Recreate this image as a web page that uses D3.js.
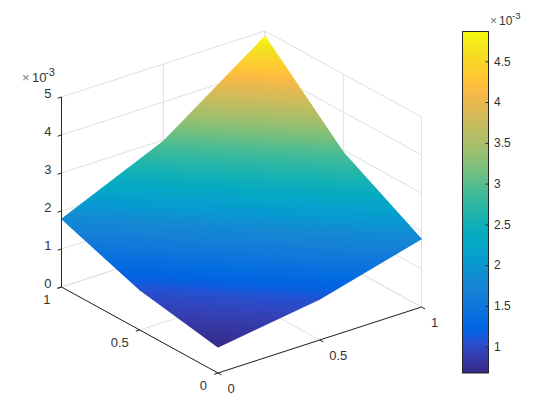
<!DOCTYPE html>
<html>
<head>
<meta charset="utf-8">
<script src="https://cdn.jsdelivr.net/npm/d3@7"></script>
<style>
    body { margin: 0; background: #fff; }
    svg { display: block; }
    text { font-family: "Liberation Sans", Arial, sans-serif; font-size: 13px; fill: #333; }
</style>
</head>
<body>
<svg id="chart" width="560" height="420"></svg>
<script>
// surface values, z in units of 1e-3. surfZ[row for y][column for x]
const surfX = [0, 0.5, 1];
const surfY = [0, 0.5, 1];
const surfZ = [
    [0.677, 1.07, 1.79],
    [1.05, 1.80, 2.95],
    [1.79, 2.97, 4.866]
];

const xTicks = [0, 0.5, 1];
const yTicks = [0, 0.5, 1];
const zTicks = [0, 1, 2, 3, 4, 5];
const barTicks = [1, 1.5, 2, 2.5, 3, 3.5, 4, 4.5];
const colorLimits = [0.677, 4.866];
const exponentBase = "10";
const exponentPower = "-3";

// MATLAB parula colormap
const parula = [
    [0.2081,0.1663,0.5292],[0.2116,0.1898,0.5777],[0.2123,0.2138,0.6270],[0.2081,0.2386,0.6771],
    [0.1959,0.2645,0.7279],[0.1707,0.2919,0.7792],[0.1253,0.3242,0.8303],[0.0591,0.3598,0.8683],
    [0.0117,0.3875,0.8820],[0.0060,0.4086,0.8828],[0.0165,0.4266,0.8786],[0.0329,0.4430,0.8720],
    [0.0498,0.4586,0.8641],[0.0629,0.4737,0.8554],[0.0723,0.4887,0.8467],[0.0779,0.5040,0.8384],
    [0.0793,0.5200,0.8312],[0.0749,0.5375,0.8263],[0.0641,0.5570,0.8240],[0.0488,0.5772,0.8228],
    [0.0343,0.5966,0.8199],[0.0265,0.6137,0.8135],[0.0239,0.6287,0.8038],[0.0231,0.6418,0.7913],
    [0.0228,0.6535,0.7768],[0.0267,0.6642,0.7607],[0.0384,0.6743,0.7436],[0.0590,0.6838,0.7254],
    [0.0843,0.6928,0.7062],[0.1133,0.7015,0.6859],[0.1453,0.7098,0.6646],[0.1801,0.7177,0.6424],
    [0.2178,0.7250,0.6193],[0.2586,0.7317,0.5954],[0.3022,0.7376,0.5712],[0.3482,0.7424,0.5473],
    [0.3953,0.7459,0.5244],[0.4420,0.7481,0.5033],[0.4871,0.7491,0.4840],[0.5300,0.7491,0.4661],
    [0.5709,0.7485,0.4494],[0.6099,0.7473,0.4337],[0.6473,0.7456,0.4188],[0.6834,0.7435,0.4044],
    [0.7184,0.7411,0.3905],[0.7525,0.7384,0.3768],[0.7858,0.7356,0.3633],[0.8185,0.7327,0.3498],
    [0.8507,0.7299,0.3360],[0.8824,0.7274,0.3217],[0.9139,0.7258,0.3063],[0.9450,0.7261,0.2886],
    [0.9739,0.7314,0.2666],[0.9938,0.7455,0.2403],[0.9990,0.7653,0.2164],[0.9955,0.7861,0.1967],
    [0.9880,0.8066,0.1794],[0.9789,0.8271,0.1633],[0.9697,0.8481,0.1475],[0.9626,0.8705,0.1309],
    [0.9589,0.8949,0.1132],[0.9598,0.9218,0.0948],[0.9661,0.9514,0.0755],[0.9763,0.9831,0.0538]
];
const parulaCss = parula.map(c => d3.rgb(c[0] * 255, c[1] * 255, c[2] * 255).formatHex());

const svg = d3.select("#chart");
const defs = svg.append("defs");

// oblique projection: every data axis adds its own screen offset to the front corner
const originX = 218, originY = 373;
const xToPx = d3.scaleLinear().domain([0, 1]).range([0, 203.5]);
const xToPy = d3.scaleLinear().domain([0, 1]).range([0, -66]);
const yToPx = d3.scaleLinear().domain([0, 1]).range([0, -156.5]);
const yToPy = d3.scaleLinear().domain([0, 1]).range([0, -86]);
const zToPy = d3.scaleLinear().domain([0, 5]).range([0, -190]);

function project(x, y, z) {
    return [originX + xToPx(x) + yToPx(y), originY + xToPy(x) + yToPy(y) + zToPy(z)];
}

function addLine(g, a, b, colour, width) {
    g.append("line")
        .attr("x1", a[0]).attr("y1", a[1])
        .attr("x2", b[0]).attr("y2", b[1])
        .attr("stroke", colour)
        .attr("stroke-width", width);
}

function addStops(gradient) {
    gradient.selectAll("stop")
        .data(parulaCss)
        .join("stop")
        .attr("offset", (d, i) => i / (parulaCss.length - 1))
        .attr("stop-color", d => d);
}

// back walls and floor grid
const gridColour = "#e0e0e0";
const grid = svg.append("g").attr("fill", "none");
for (const z of zTicks) {
    addLine(grid, project(0, 1, z), project(1, 1, z), gridColour, 1);
    addLine(grid, project(1, 1, z), project(1, 0, z), gridColour, 1);
}
for (const x of xTicks) {
    addLine(grid, project(x, 1, 0), project(x, 1, 5), gridColour, 1);
    addLine(grid, project(x, 0, 0), project(x, 1, 0), gridColour, 1);
}
for (const y of yTicks) {
    addLine(grid, project(1, y, 0), project(1, y, 5), gridColour, 1);
    addLine(grid, project(0, y, 0), project(1, y, 0), gridColour, 1);
}

// the surface: z is linear in screen space inside a triangle, so a gradient along
// the screen direction of z gives the interpolated colormap shading exactly
const surfaceUnder = svg.append("g");
const surface = svg.append("g");
let triangleId = 0;
function addTriangle(a, b, c) {
    const [p0, p1, p2] = [a, b, c].map(v => project(v[0], v[1], v[2]));
    const d1 = [p1[0] - p0[0], p1[1] - p0[1], b[2] - a[2]];
    const d2 = [p2[0] - p0[0], p2[1] - p0[1], c[2] - a[2]];
    const det = d1[0] * d2[1] - d1[1] * d2[0];
    const gx = (d1[2] * d2[1] - d1[1] * d2[2]) / det;
    const gy = (d1[0] * d2[2] - d1[2] * d2[0]) / det;
    const len2 = gx * gx + gy * gy;
    const at = z => [p0[0] + gx * (z - a[2]) / len2, p0[1] + gy * (z - a[2]) / len2];
    const start = at(colorLimits[0]), end = at(colorLimits[1]);

    const id = "tri" + triangleId++;
    const gradient = defs.append("linearGradient")
        .attr("id", id)
        .attr("gradientUnits", "userSpaceOnUse")
        .attr("x1", start[0]).attr("y1", start[1])
        .attr("x2", end[0]).attr("y2", end[1]);
    addStops(gradient);

    const points = [p0, p1, p2].map(p => p.join(",")).join(" ");
    // stroked copy underneath closes the antialiasing gaps between triangles
    surfaceUnder.append("polygon")
        .attr("points", points)
        .attr("fill", `url(#${id})`)
        .attr("stroke", `url(#${id})`)
        .attr("stroke-width", 0.5)
        .attr("stroke-linejoin", "round");
    surface.append("polygon")
        .attr("points", points)
        .attr("fill", `url(#${id})`);
}

for (let j = 0; j < surfY.length - 1; ++j) {
    for (let i = 0; i < surfX.length - 1; ++i) {
        const v00 = [surfX[i], surfY[j], surfZ[j][i]];
        const v10 = [surfX[i + 1], surfY[j], surfZ[j][i + 1]];
        const v01 = [surfX[i], surfY[j + 1], surfZ[j + 1][i]];
        const v11 = [surfX[i + 1], surfY[j + 1], surfZ[j + 1][i + 1]];
        addTriangle(v00, v10, v01);
        addTriangle(v10, v11, v01);
    }
}

// axis lines and tick marks
const axisColour = "#262626";
const axes = svg.append("g");
addLine(axes, project(0, 0, 0), project(1, 0, 0), axisColour, 1);
addLine(axes, project(0, 0, 0), project(0, 1, 0), axisColour, 1);
addLine(axes, project(0, 1, 0), project(0, 1, 5), axisColour, 1);

const tickX = 4 / 208, tickY = 4 / 178;
for (const x of xTicks) {
    addLine(axes, project(x, 0, 0), project(x, -tickY, 0), axisColour, 1);
}
for (const y of yTicks) {
    addLine(axes, project(0, y, 0), project(-tickX, y, 0), axisColour, 1);
}
for (const z of zTicks) {
    addLine(axes, project(0, 1, z), project(-tickX, 1, z), axisColour, 1);
}

// tick labels
const labels = svg.append("g");
function addLabel(p, dx, dy, text, anchor) {
    labels.append("text")
        .attr("x", p[0] + dx)
        .attr("y", p[1] + dy)
        .attr("text-anchor", anchor)
        .text(text);
}
for (const x of xTicks) addLabel(project(x, 0, 0), 9.5, 20, x, "start");
for (const y of yTicks) addLabel(project(0, y, 0), -11, 17, y, "end");
for (const z of zTicks) addLabel(project(0, 1, z), -10, 0.5, z, "end");

function addExponent(x, y, baseGap, powerGap, baseSize, powerSize) {
    labels.append("text").attr("x", x).attr("y", y).style("fill", "#777").style("font-size", baseSize + "px").text("\u00d7");
    labels.append("text").attr("x", x + baseGap).attr("y", y).style("font-size", baseSize + "px").text(exponentBase);
    labels.append("text").attr("x", x + powerGap).attr("y", y - 6).style("font-size", powerSize + "px").text(exponentPower);
}
addExponent(22, 82, 10, 23, 13, 11);
addExponent(490, 24.5, 9, 22, 12, 9.5);

// colorbar
const barLeft = 462.5, barRight = 488.5, barTop = 31.5, barBottom = 373;
const barScale = d3.scaleLinear().domain(colorLimits).range([barBottom, barTop]);
const barGradient = defs.append("linearGradient")
    .attr("id", "barGradient")
    .attr("x1", 0).attr("y1", 1)
    .attr("x2", 0).attr("y2", 0);
addStops(barGradient);

svg.append("rect")
    .attr("x", barLeft).attr("y", barTop)
    .attr("width", barRight - barLeft).attr("height", barBottom - barTop)
    .attr("fill", "url(#barGradient)");

const barAxis = svg.append("g")
    .attr("transform", `translate(${barRight},0)`)
    .call(d3.axisRight(barScale).tickValues(barTicks).tickSize(-3).tickSizeOuter(0).tickPadding(5.5).tickFormat(d => d));
barAxis.selectAll(".domain").remove();
barAxis.selectAll("line").attr("stroke", axisColour);
barAxis.selectAll("text").style("font-size", "12px");
barAxis.attr("font-size", null).attr("font-family", null);

svg.append("rect")
    .attr("x", barLeft).attr("y", barTop)
    .attr("width", barRight - barLeft).attr("height", barBottom - barTop)
    .attr("fill", "none")
    .attr("stroke", axisColour)
    .attr("stroke-width", 1);
</script>
</body>
</html>
